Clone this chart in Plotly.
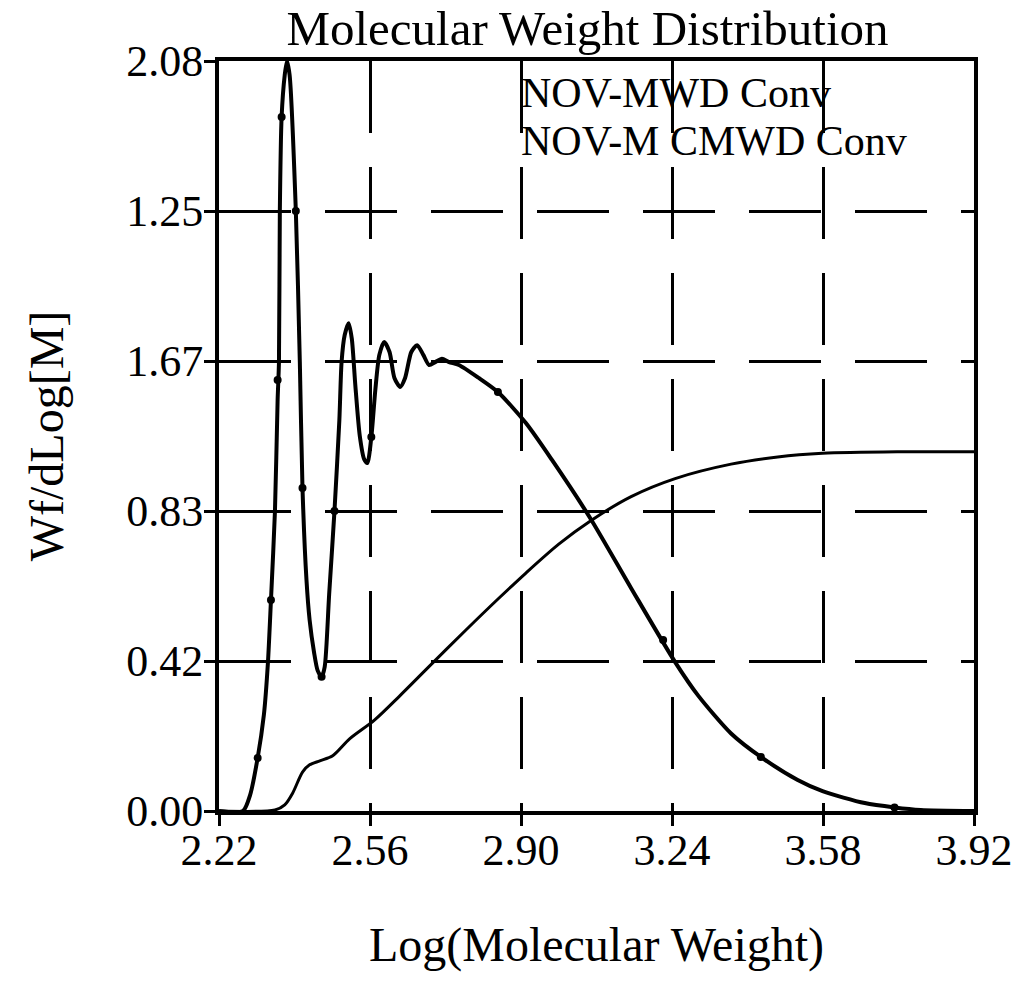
import plotly.graph_objects as go

# ---- data ----
mwd_x = [2.220, 2.274, 2.290, 2.307, 2.321, 2.330, 2.337, 2.346, 2.352, 2.355, 2.357, 2.361,
         2.368, 2.373, 2.379, 2.393, 2.402, 2.408, 2.417, 2.424, 2.434, 2.442, 2.451, 2.458,
         2.468, 2.480, 2.491, 2.496, 2.503, 2.512, 2.519, 2.527, 2.537, 2.547, 2.554, 2.563,
         2.572, 2.581, 2.592, 2.604, 2.615, 2.628, 2.639, 2.653, 2.666, 2.680, 2.693, 2.707,
         2.722, 2.738, 2.760, 2.805, 2.848, 2.911, 2.969, 3.057, 3.148, 3.247, 3.299, 3.373,
         3.440, 3.523, 3.579, 3.674, 3.741, 3.800, 3.920]
mwd_y = [0.000, 0.000, 0.044, 0.147, 0.266, 0.408, 0.585, 0.832, 1.140, 1.245, 1.664, 1.925,
         2.041, 2.080, 2.041, 1.664, 1.245, 0.896, 0.640, 0.530, 0.440, 0.390, 0.372, 0.400,
         0.600, 0.832, 1.084, 1.245, 1.320, 1.353, 1.310, 1.180, 1.040, 0.975, 0.965, 1.037,
         1.168, 1.265, 1.301, 1.273, 1.201, 1.176, 1.201, 1.273, 1.292, 1.265, 1.237, 1.245,
         1.254, 1.245, 1.237, 1.201, 1.162, 1.076, 0.975, 0.810, 0.618, 0.413, 0.320, 0.215,
         0.150, 0.086, 0.055, 0.022, 0.010, 0.003, 0.000]

mwd_mark_x = [2.307, 2.337, 2.352, 2.361, 2.393, 2.408, 2.451, 2.480, 2.563, 2.848, 3.220, 3.440, 3.741]
mwd_mark_y = [0.147, 0.585, 1.195, 1.925, 1.664, 0.896, 0.372, 0.832, 1.037, 1.162, 0.474, 0.150, 0.010]

cmwd_x = [2.220, 2.346, 2.368, 2.386, 2.408, 2.424, 2.447, 2.476, 2.514, 2.570, 2.626, 2.686,
          2.776, 2.850, 2.911, 2.985, 3.057, 3.148, 3.247, 3.373, 3.478, 3.579, 3.747, 3.920]
cmwd_y = [0.000, 0.003, 0.017, 0.050, 0.108, 0.128, 0.139, 0.153, 0.200, 0.252, 0.318, 0.392,
          0.502, 0.590, 0.660, 0.740, 0.805, 0.872, 0.922, 0.962, 0.982, 0.992, 0.996, 0.996]

x_ticks = [2.22, 2.56, 2.90, 3.24, 3.58, 3.92]
x_tick_labels = ["2.22", "2.56", "2.90", "3.24", "3.58", "3.92"]
y_ticks = [0.0, 0.416, 0.832, 1.248, 1.664, 2.08]
y_tick_labels = ["0.00", "0.42", "0.83", "1.67", "1.25", "2.08"]

series_names = ["NOV-MWD Conv", "NOV-M CMWD Conv"]

FONT = "Liberation Serif, Times New Roman, serif"

fig = go.Figure()
fig.add_trace(go.Scatter(x=mwd_x, y=mwd_y, mode="lines", name=series_names[0],
                         line=dict(color="black", width=4, shape="spline", smoothing=0.7)))
fig.add_trace(go.Scatter(x=mwd_mark_x, y=mwd_mark_y, mode="markers", showlegend=False,
                         marker=dict(color="black", size=8)))
fig.add_trace(go.Scatter(x=cmwd_x, y=cmwd_y, mode="lines", name=series_names[1],
                         line=dict(color="black", width=3, shape="spline", smoothing=0.8)))

axis_common = dict(
    showline=True, linecolor="black", linewidth=4, mirror=True,
    showgrid=True, gridcolor="black", gridwidth=2.5, griddash="72px,34px",
    ticks="outside", ticklen=11, tickwidth=3, tickcolor="black",
    zeroline=False,
    tickfont=dict(family=FONT, size=44, color="black"),
)

fig.update_layout(
    width=1025, height=982,
    margin=dict(l=219, r=48, t=61, b=171, pad=0),
    paper_bgcolor="white", plot_bgcolor="white",
    showlegend=False,
    font=dict(family=FONT, color="black"),
    title=dict(text="Molecular Weight Distribution", font=dict(family=FONT, size=49, color="black"),
               x=0.488, xref="paper", xanchor="center",
               y=1 - 28 / 982, yref="container", yanchor="middle"),
    xaxis=dict(range=[2.22, 3.92], tickmode="array", tickvals=x_ticks, ticktext=x_tick_labels,
               ticklabelstandoff=-14,
               title=dict(text="Log(Molecular Weight)", font=dict(family=FONT, size=48, color="black"),
                          standoff=55),
               **axis_common),
    yaxis=dict(range=[0, 2.08], tickmode="array", tickvals=y_ticks, ticktext=y_tick_labels,
               ticklabelstandoff=-8,
               title=dict(text="Wf/dLog[M]", font=dict(family=FONT, size=48, color="black"),
                          standoff=48),
               **axis_common),
)

legend_y = [0.957, 0.893]
for name, yy in zip(series_names, legend_y):
    fig.add_annotation(text=name, xref="paper", yref="paper", x=0.397, y=yy,
                       xanchor="left", yanchor="middle", showarrow=False,
                       font=dict(family=FONT, size=42, color="black"))

fig.write_html("out.html")
